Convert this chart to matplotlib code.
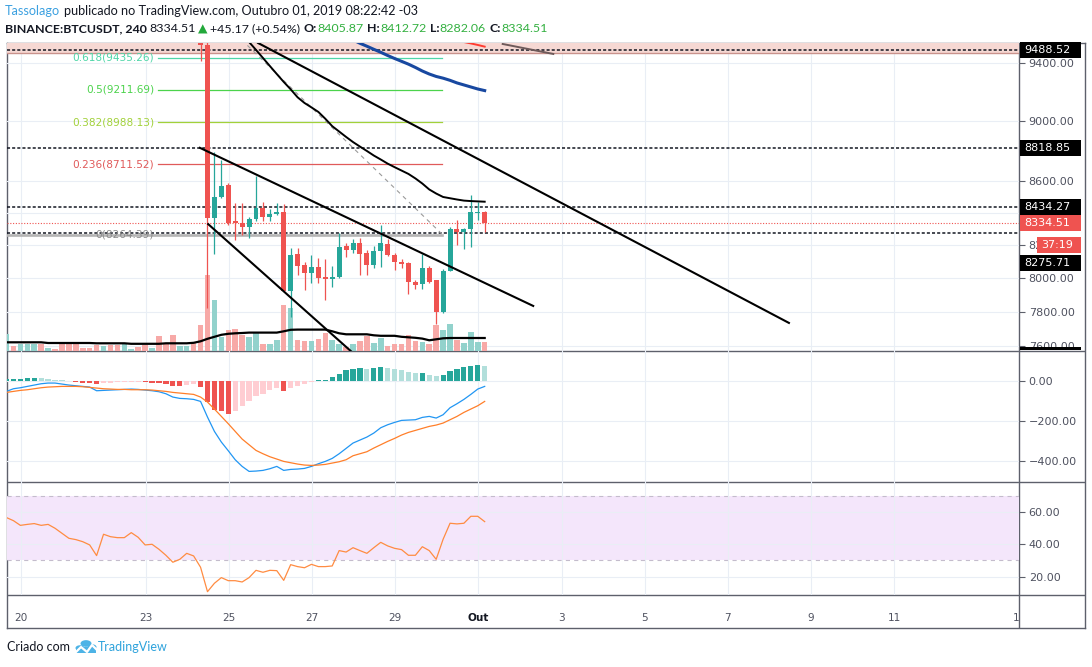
import numpy as np
import matplotlib
matplotlib.use('Agg')
import matplotlib.pyplot as plt
from matplotlib.patches import Rectangle, Circle
from matplotlib.ticker import FixedLocator, FuncFormatter, NullLocator

plt.rcParams['lines.scale_dashes'] = False
plt.rcParams['font.family'] = ['DejaVu Sans']

# ---- 4h candles, Sep 20 .. Oct 1 (bar index 0..69), first 29 sit above the visible range
opens = [10150, 10180, 10160, 10195, 10225, 10245, 10200, 10215, 10205, 10140,
         10080, 10040, 10030, 10010, 9965, 10050, 10025, 10005, 10045, 10070,
         10020, 9960, 9975, 9860, 9815, 9700, 9740, 9765, 9720, 9523,
         8370, 8500, 8575, 8349, 8338, 8310, 8359, 8430, 8372, 8390,
         8404, 7924, 8143, 8076, 8032, 8068, 8006, 7996, 8006, 8194,
         8169, 8215, 8150, 8078, 8160, 8205, 8139, 8098, 8088, 7978,
         7962, 8058, 7988, 7800, 8044, 8298, 8277, 8298, 8398, 8405.87]
highs = [10190, 10200, 10210, 10240, 10260, 10255, 10230, 10220, 10210, 10150,
         10095, 10060, 10045, 10020, 10060, 10065, 10035, 10060, 10080, 10075,
         10030, 9990, 9985, 9880, 9825, 9760, 9780, 9775, 9740, 9560,
         8790, 8739, 8592, 8460, 8460, 8375, 8637, 8466, 8425, 8460,
         8453, 8180, 8180, 8098, 8139, 8119, 8115, 8074, 8272, 8210,
         8236, 8240, 8172, 8194, 8323, 8234, 8151, 8113, 8095, 7988,
         8143, 8072, 7988, 8055, 8310, 8355, 8304, 8513, 8466, 8412.72]
lows = [10120, 10140, 10150, 10180, 10210, 10190, 10185, 10190, 10120, 10060,
        10020, 10010, 10000, 9950, 9960, 10010, 9990, 10000, 10040, 10010,
        9940, 9950, 9840, 9800, 9680, 9690, 9720, 9700, 9413, 7820,
        8145, 8494, 8323, 8230, 8261, 8240, 8349, 8349, 8349, 8385,
        7918, 7770, 8018, 7928, 7968, 7968, 7869, 7948, 8000, 8125,
        8150, 8018, 8018, 8058, 8068, 8135, 8048, 8058, 7905, 7932,
        7932, 7972, 7729, 7795, 8040, 8200, 8173, 8185, 8355, 8282.06]
closes = [10180, 10160, 10195, 10225, 10245, 10200, 10215, 10205, 10140, 10080,
          10040, 10030, 10010, 9965, 10050, 10025, 10005, 10045, 10070, 10020,
          9960, 9975, 9860, 9815, 9700, 9740, 9765, 9720, 9523, 8370,
          8497, 8573, 8338, 8338, 8310, 8360, 8430, 8372, 8392, 8404,
          7924, 8139, 8072, 8032, 8068, 8002, 7996, 8008, 8190, 8169,
          8212, 8145, 8078, 8160, 8210, 8139, 8098, 8084, 7978, 7958,
          8058, 7978, 7800, 8044, 8298, 8277, 8298, 8405, 8406, 8334.51]
volumes = [6800, 2000, 2800, 3000, 3000, 3000, 1400, 920, 2800, 3000,
           2800, 1200, 1200, 2400, 2000, 2400, 2400, 3200, 1000, 1800,
           2400, 1400, 6000, 2800, 6400, 2000, 2000, 3200, 10400, 30300,
           20300, 5600, 8300, 8900, 6300, 5600, 7300, 2900, 2700, 4300,
           18300, 17300, 4500, 3900, 3900, 4700, 7200, 4500, 2700, 1600,
           2700, 3900, 5900, 3200, 5200, 2000, 2700, 2700, 6300, 3900,
           3600, 2900, 10300, 8500, 10700, 4500, 3300, 7600, 3600, 3600]
volume_ma = [3480, 3480, 3480, 3480, 3480, 3480, 3200, 3200, 3200, 3200,
             3200, 3200, 3200, 3080, 3080, 3080, 3080, 3080, 2880, 2880,
             2880, 2880, 2880, 3080, 3080, 3080, 3080, 3280, 3880, 4880,
             5680, 6480, 6880, 7080, 7200, 7360, 7360, 7360, 7360, 7360,
             7880, 8480, 8560, 8560, 8560, 8560, 8560, 7880, 7080, 6680,
             6680, 6680, 6680, 6280, 6080, 6080, 6080, 5680, 5480, 5280,
             4960, 4280, 4680, 5080, 5200, 5200, 5200, 5200, 5200, 5200]

# ---- MACD (12, 26, 9)
macd_line = [-50, -36.7, -31.7, -25, -18.3, -11.7, -8.3, -8.3, -13.3, -18.3,
             -21.7, -25, -28.3, -46.7, -45, -43.3, -41.7, -40, -38.3, -40,
             -43.3, -46.7, -51.7, -61.7, -78.3, -85, -86.7, -90, -100, -178.3,
             -250, -303.3, -346.7, -391.7, -425, -450, -448.3, -445, -436.7, -425,
             -445, -440, -438.3, -435, -425, -411.7, -400, -385, -361.7, -335,
             -308.3, -293.3, -278.3, -258.3, -231.7, -216.7, -205, -195, -193.3, -191.7,
             -180, -175, -183.3, -166.7, -131.7, -111.7, -90, -65, -38.3, -25]
signal_line = [-55, -50, -45, -41.7, -36.7, -31.7, -28.3, -26.7, -25, -25,
               -25, -26.7, -30, -33.3, -36.7, -38.3, -40, -40, -41.7, -41.7,
               -41.7, -43.3, -46.7, -50, -55, -58.3, -61.7, -65, -78.3, -103.3,
               -138.3, -175, -211.7, -250, -288.3, -316.7, -345, -361.7, -376.7, -388.3,
               -400, -406.7, -413.3, -418.3, -420, -418.3, -415, -408.3, -401.7, -391.7,
               -371.7, -361.7, -351.7, -333.3, -316.7, -300, -285, -268.3, -255, -245,
               -235, -225, -218.3, -208.3, -191.7, -175, -155, -138.3, -121.7, -100]
macd_hist = [10, 11.7, 13.3, 16.7, 18.3, 16.7, 13.3, 8.3, 5, 1.7,
             -1.7, -6.7, -10, -13.3, -8.3, -6.7, -5, -3.3, -1.7, -0.8,
             -5, -6.7, -8.3, -13.3, -23.3, -25, -16.7, -15, -30, -103.3,
             -141.7, -150, -161.7, -146.7, -125, -96.7, -75, -63.3, -45, -33.3,
             -46.7, -33.3, -21.7, -13.3, -5, 5, 8.3, 20, 38.3, 55,
             63.3, 65, 63.3, 66.7, 70, 68.3, 63.3, 55, 46.7, 40,
             41.7, 33.3, 25, 30, 50, 61.7, 70, 78.3, 83.3, 75]

# ---- RSI (14)
rsi = [56.5, 54.6, 51.7, 52.3, 52.8, 51.7, 52.3, 49.9, 46.8, 43.7,
       42.9, 41.6, 39.6, 33.0, 46.2, 44.7, 44.1, 44.1, 47.2, 44.3,
       39.6, 40.0, 36.9, 33.2, 28.9, 30.7, 34.4, 32.8, 25.8, 10.7,
       15.9, 19.4, 17.5, 17.5, 16.7, 19.4, 23.9, 22.7, 23.9, 23.7,
       17.7, 27.4, 26.2, 25.5, 27.6, 26.2, 26.2, 26.6, 36.1, 35.2,
       37.9, 36.1, 34.4, 37.9, 41.2, 39.0, 37.5, 36.7, 33.2, 33.2,
       38.5, 36.1, 30.7, 43.1, 53.0, 52.6, 53.0, 57.3, 57.3, 54.0]

# ---- overlays on the price pane
black_ma_start = 34
black_ma = [9604, 9546, 9490, 9433, 9376, 9320, 9265, 9214, 9159, 9120,
            9090, 9059, 9013, 8963, 8927, 8891, 8857, 8827, 8798, 8768,
            8742, 8715, 8692, 8670, 8648, 8619, 8586, 8548, 8522, 8500,
            8492, 8484, 8477, 8474, 8472, 8470]
blue_ma_start = 50
blue_ma = [9561, 9537, 9516, 9494, 9473, 9450, 9429, 9409, 9389, 9366,
           9341, 9320, 9303, 9291, 9276, 9258, 9244, 9230, 9216, 9205]
red_ma_start = 66
red_ma = [9546, 9536, 9525, 9513]

# trend lines drawn by the author: (bar index pair, price pair)
trend_lines = [([36.3, 112.9], [9539, 7735]),
               ([27.9, 76.0], [8818.85, 7834]),
               ([29.1, 50.5], [8329, 7545])]
brown_line = ([71.6, 78.9], [9532, 9461])

# horizontal levels
levels = [9488.52, 8818.85, 8434.27, 8275.71]
zone = (9468, 9700)
last_price = 8334.51
countdown = '37:19'

# fibonacci retracement
fib_anchor_x = [21.9, 62.9]
fib_anchor_p = [10159.0, 8264.39]
fib_ratios = ['0.618', '0.5', '0.382', '0.236', '0']
fib_prices = [9435.26, 9211.69, 8988.13, 8711.52, 8264.39]
fib_colors = ['#4fd6a8', '#4cd34c', '#a2d13a', '#e05a5a', '#a0a0a0']

# time axis
tick_days = [20, 23, 25, 27, 29, 31, 33, 35, 37, 39, 41, 44]
tick_labels = ['20', '23', '25', '27', '29', 'Out', '3', '5', '7', '9', '11', '14']

price_ticks = [7600, 7800, 8000, 8200, 8400, 8600, 9000, 9400]
macd_ticks = [0, -200, -400]
rsi_ticks = [20, 40, 60]

# ---------------------------------------------------------------------------
W, H = 1092, 667
UP, DOWN = '#26a69a', '#ef5350'
FRAME = '#5d606b'
GRID = '#e9eef5'
TXT = '#4f5260'
DARK = '#131722'
GREEN = '#33b040'

idx = np.arange(len(closes))
o, h, l, c = map(np.array, (opens, highs, lows, closes))
up = c >= o
day_pos = [2.1 + (d - 20) * 6 for d in tick_days]
XLIM = (0.07, 146.1)


def rect(x0, y0, x1, y1):
    return [x0 / W, 1 - y1 / H, (x1 - x0) / W, (y1 - y0) / H]


def fmt2(v, pos=None):
    return f'{v:.2f}'.replace('-', '\u2212')


fig = plt.figure(figsize=(W / 100, H / 100), dpi=100)
fig.patch.set_facecolor('white')

# frame and pane separators
axbg = fig.add_axes(rect(7, 43, 1085, 628), zorder=-1)
axbg.set_xticks([]); axbg.set_yticks([])
for s in axbg.spines.values():
    s.set_color(FRAME); s.set_linewidth(1)
for ypx in (351, 482, 595):
    axbg.plot([0, 1], [(628 - ypx) / 585] * 2, transform=axbg.transAxes, color=FRAME, lw=1)
axbg.plot([(1019 - 7) / 1078] * 2, [0, 1], transform=axbg.transAxes, color=FRAME, lw=1)


def setup_pane(a, z):
    a.set_zorder(z)
    a.set_facecolor('none')
    a.set_xlim(*XLIM)
    for s in a.spines.values():
        s.set_visible(False)


# price grid layer
axg = fig.add_axes(rect(7, 43, 1019, 351))
setup_pane(axg, 0)
axg.set_yscale('log')
axg.set_ylim(7574, 9539)
axg.yaxis.set_major_locator(FixedLocator(price_ticks))
axg.yaxis.set_minor_locator(NullLocator())
axg.set_xticks(day_pos)
axg.grid(True, color=GRID, lw=0.8)
axg.tick_params(length=0, labelleft=False, labelbottom=False)

# volume layer
axv = fig.add_axes(rect(7, 43, 1019, 351))
setup_pane(axv, 0.1)
axv.set_ylim(0, 123200)
axv.bar(idx, volumes, width=0.8, color=np.where(up, '#92d2cc', '#f7a9a7'))
axv.plot(idx, volume_ma, color='black', lw=1.6)
axv.set_xticks([]); axv.set_yticks([])

# price layer
ax = fig.add_axes(rect(7, 43, 1019, 351))
setup_pane(ax, 0.2)
ax.set_yscale('log')
ax.set_ylim(7574, 9539)
ax.yaxis.tick_right()
ax.yaxis.set_major_locator(FixedLocator(price_ticks))
ax.yaxis.set_minor_locator(NullLocator())
ax.yaxis.set_major_formatter(FuncFormatter(fmt2))
ax.tick_params(axis='y', length=4, width=0.8, color=FRAME, labelsize=8, labelcolor=TXT, pad=3)
ax.set_xticks([])

ax.axhspan(*zone, color='#f6d8d3', lw=0, zorder=1)
ax.axhline(zone[0], color='#c9928c', lw=1, zorder=1.1)
for lv in levels:
    ax.axhline(lv, color=DARK, lw=1.1, dashes=(2.2, 1.5), zorder=2)
ax.axhline(last_price, color=DOWN, lw=0.8, dashes=(0.8, 1.2), zorder=2)

# fibonacci
ax.plot(fib_anchor_x, fib_anchor_p, color='#9a9a9a', lw=0.8, dashes=(3, 3), zorder=2)
for r, p, col in zip(fib_ratios, fib_prices, fib_colors):
    if r == '0':
        ax.plot([XLIM[0], fib_anchor_x[1]], [p, p], color='#b4b4b4', lw=1.9, zorder=1.5)
    else:
        ax.plot(fib_anchor_x, [p, p], color=col, lw=0.9, zorder=1.5)
    ax.annotate(f'{r}({p:.2f})', (fib_anchor_x[0], p), xytext=(-3, 0), textcoords='offset points',
                ha='right', va='center', fontsize=7.6, color=col if r != '0' else '#8c8c8c', zorder=2)

# candles
body_lo = np.minimum(o, c)
body_h = np.maximum(np.abs(c - o), 2.5)
cols = np.where(up, UP, DOWN)
ax.vlines(idx, l, h, colors=cols, lw=0.9, zorder=3)
ax.bar(idx, body_h, bottom=body_lo, width=0.72, color=cols, zorder=3.1)

# moving averages and drawings
ax.plot(black_ma_start + np.arange(len(black_ma)), black_ma, color='black', lw=1.4, zorder=4)
ax.plot(blue_ma_start + np.arange(len(blue_ma)), blue_ma, color='#1848a0', lw=2.2, zorder=4)
ax.plot(red_ma_start + np.arange(len(red_ma)), red_ma, color='#ff3b30', lw=1.4, zorder=4)
ax.plot(*brown_line, color='#6e5a5a', lw=1.4, zorder=4)
for xs, ps in trend_lines:
    ax.plot(xs, ps, color='black', lw=1.5, zorder=4)

# MACD pane
ax2 = fig.add_axes(rect(7, 351, 1019, 482))
setup_pane(ax2, 0.2)
ax2.set_ylim(-503, 152)
hist = np.array(macd_hist)
prev = np.r_[hist[0], hist[:-1]]
hcol = np.where(hist >= 0, np.where(hist >= prev, '#26a69a', '#b2dfdb'),
                np.where(hist < prev, '#ef5350', '#ffcdd2'))
ax2.bar(idx, hist, width=0.75, color=hcol, zorder=2)
ax2.plot(idx, macd_line, color='#2196f3', lw=0.9, zorder=3)
ax2.plot(idx, signal_line, color='#ff7f2a', lw=0.9, zorder=3)
ax2.yaxis.tick_right()
ax2.yaxis.set_major_locator(FixedLocator(macd_ticks))
ax2.yaxis.set_major_formatter(FuncFormatter(fmt2))
ax2.set_xticks(day_pos)
ax2.grid(True, color=GRID, lw=0.8, zorder=0)
ax2.tick_params(axis='y', length=4, width=0.8, color=FRAME, labelsize=8, labelcolor=TXT, pad=3)
ax2.tick_params(axis='x', length=0, labelbottom=False)

# RSI pane
ax3 = fig.add_axes(rect(7, 482, 1019, 595))
setup_pane(ax3, 0.2)
ax3.set_ylim(8.65, 78.5)
ax3.axhspan(30, 70, color='#f4e6fb', lw=0, zorder=0.5)
for lv in (30, 70):
    ax3.axhline(lv, color='#c4bccc', lw=0.8, dashes=(3, 3), zorder=1)
ax3.plot(idx, rsi, color='#ff8c42', lw=0.9, zorder=3)
ax3.yaxis.tick_right()
ax3.yaxis.set_major_locator(FixedLocator(rsi_ticks))
ax3.yaxis.set_major_formatter(FuncFormatter(fmt2))
ax3.set_xticks(day_pos)
ax3.grid(True, color=GRID, lw=0.8, zorder=0)
ax3.tick_params(axis='y', length=4, width=0.8, color=FRAME, labelsize=8, labelcolor=TXT, pad=3)
ax3.tick_params(axis='x', length=0, labelbottom=False)

# time axis row
axt = fig.add_axes(rect(7, 595, 1019, 628))
setup_pane(axt, 0.2)
axt.set_ylim(0, 1)
axt.set_xticks([]); axt.set_yticks([])
for xp, lab in zip(day_pos, tick_labels):
    bold = lab == 'Out'
    axt.text(xp, 0.3, lab, ha='center', va='center', fontsize=7.6, clip_on=True,
             color=DARK if bold else TXT, fontweight='bold' if bold else 'normal')

# price scale tags


def ypx_of(price):
    return H - ax.transData.transform((1, price))[1]


def tag(text, ycen, face, x0=1020, x1=1081):
    fig.add_artist(Rectangle((x0 / W, 1 - (ycen + 8) / H), (x1 - x0) / W, 16 / H,
                             transform=fig.transFigure, facecolor=face, edgecolor='none', zorder=5))
    fig.text((x0 + 4) / W, 1 - ycen / H, text, color='white', fontsize=8, va='center', ha='left', zorder=6)


for lv in levels[:3]:
    tag(f'{lv:.2f}', ypx_of(lv), 'black')
y_last = ypx_of(last_price)
tag(f'{last_price:.2f}', y_last, DOWN)
tag(countdown, y_last + 21.5, DOWN, x0=1037)
tag(f'{levels[3]:.2f}', y_last + 39.5, 'black')
fig.add_artist(Rectangle((1020 / W, 1 - 350.5 / H), 61 / W, 3.2 / H, transform=fig.transFigure,
                         facecolor='black', edgecolor='none', zorder=5))

# header rows
renderer = fig.canvas.get_renderer()
HF = ['Lato', 'DejaVu Sans']


def row(x, y, parts, size=9.1):
    for s, color, weight, gap in parts:
        x += gap
        t = fig.text(x / W, 1 - y / H, s, color=color, fontweight=weight, fontsize=size,
                     va='center', ha='left', family=HF)
        x = t.get_window_extent(renderer=renderer).x1


row(5, 11, [('Tassolago', '#3ba0e0', 'normal', 0),
            ('publicado no TradingView.com, Outubro 01, 2019 08:22:42 -03', DARK, 'normal', 3.5)])
row(5, 29, [('BINANCE:BTCUSDT, 240', DARK, 'bold', 0),
            ('8334.51', DARK, 'normal', 3),
            ('\u25b2', '#22a83a', 'normal', 2),
            ('+45.17 (+0.54%)', DARK, 'normal', 2),
            ('O:', DARK, 'bold', 3.5), ('8405.87', GREEN, 'normal', 0.5),
            ('H:', DARK, 'bold', 3.5), ('8412.72', GREEN, 'normal', 0.5),
            ('L:', DARK, 'bold', 3.5), ('8282.06', GREEN, 'normal', 0.5),
            ('C:', DARK, 'bold', 3.5), ('8334.51', GREEN, 'normal', 0.5)], size=8.9)

# footer
fig.text(7 / W, 1 - 647 / H, 'Criado com', fontsize=9, color=DARK, va='center', family=HF)
LOGO = '#4db3e6'
for cx, cy, r in [(80, 648, 4.5), (86, 643.5, 5.5), (92, 647, 4.5)]:
    fig.add_artist(Circle((cx / W, 1 - cy / H), r / W, transform=fig.transFigure,
                          facecolor=LOGO, edgecolor='none'))
fig.add_artist(Rectangle((76 / W, 1 - 653 / H), 20 / W, 6 / H, transform=fig.transFigure,
                         facecolor=LOGO, edgecolor='none'))
fig.add_artist(plt.Line2D(np.array([75, 81, 87, 92, 97]) / W, 1 - np.array([653, 647, 652, 645, 650]) / H,
                          transform=fig.transFigure, color='white', lw=1.6))
fig.text(98 / W, 1 - 647 / H, 'TradingView', fontsize=9, color='#2fa3dc', va='center', family=HF)

fig.savefig('out.png', dpi=100)
